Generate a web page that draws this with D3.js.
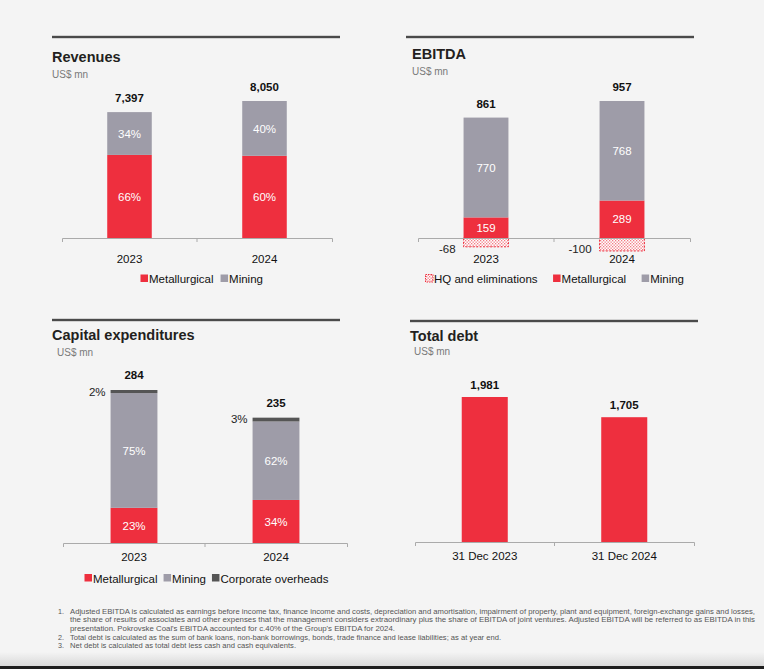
<!DOCTYPE html>
<html>
<head>
<meta charset="utf-8">
<script src="https://cdn.jsdelivr.net/npm/d3@7"></script>
<style>
  html, body { margin: 0; padding: 0; background: #f4f4f4; }
  svg { display: block; font-family: "Liberation Sans", Arial, sans-serif; }
</style>
</head>
<body>
<div id="chart"></div>
<script>
// ---- data ----
const years = ["2023", "2024"];

const revenueTotals = [7397, 8050];
const revenueMetShare = [66, 60];
const revenueMiningShare = [34, 40];

const ebitdaTotals = [861, 957];
const ebitdaHQ = [-68, -100];
const ebitdaMet = [159, 289];
const ebitdaMining = [770, 768];

const capexTotals = [284, 235];
const capexMetShare = [23, 34];
const capexMiningShare = [75, 62];
const capexCorpShare = [2, 3];

const debtDates = ["31 Dec 2023", "31 Dec 2024"];
const debtTotals = [1981, 1705];

const footnotes = [
  ["1.", "Adjusted EBITDA is calculated as earnings before income tax, finance income and costs, depreciation and amortisation, impairment of property, plant and equipment, foreign-exchange gains and losses,"],
  ["", "the share of results of associates and other expenses that the management considers extraordinary plus the share of EBITDA of joint ventures. Adjusted EBITDA will be referred to as EBITDA in this"],
  ["", "presentation. Pokrovske Coal's EBITDA accounted for c.40% of the Group's EBITDA for 2024."],
  ["2.", "Total debt is calculated as the sum of bank loans, non-bank borrowings, bonds, trade finance and lease liabilities; as at year end."],
  ["3.", "Net debt is calculated as total debt less cash and cash equivalents."]
];

// ---- styles ----
const RED = "#ee2f3e", GRAY = "#9e9ca8", DARK = "#555555";
const W = 764, H = 669;

const svg = d3.select("#chart").append("svg")
  .attr("width", W)
  .attr("height", H);

const defs = svg.append("defs");
const pat = defs.append("pattern")
  .attr("id", "hq")
  .attr("patternUnits", "userSpaceOnUse")
  .attr("width", 3).attr("height", 3);
pat.append("rect").attr("width", 3).attr("height", 3).attr("fill", "#fff");
pat.append("rect").attr("x", 0).attr("y", 0).attr("width", 1.3).attr("height", 1.3).attr("fill", "#f27a83");
pat.append("rect").attr("x", 1.5).attr("y", 1.5).attr("width", 1.3).attr("height", 1.3).attr("fill", "#f27a83");

const grad = defs.append("linearGradient")
  .attr("id", "shade").attr("x1", 0).attr("x2", 0).attr("y1", 0).attr("y2", 1);
grad.append("stop").attr("offset", 0).attr("stop-color", "#f4f4f4");
grad.append("stop").attr("offset", 1).attr("stop-color", "#d9d9d9");

svg.append("rect").attr("width", W).attr("height", H).attr("fill", "#f4f4f4");
svg.append("rect").attr("x", 0).attr("y", 652).attr("width", W).attr("height", 14).attr("fill", "url(#shade)");
svg.append("rect").attr("x", 0).attr("y", 666).attr("width", W).attr("height", 3).attr("fill", "#1e1e1e");

function segStyle(key) {
  if (key === "hq") return { fill: "url(#hq)", stroke: RED, dash: "2,1.5" };
  if (key === "met") return { fill: RED };
  if (key === "mining") return { fill: GRAY };
  return { fill: DARK };
}

function drawPanel(cfg) {
  const g = svg.append("g");

  // header rule, title, unit
  g.append("rect")
    .attr("x", cfg.rule[0]).attr("y", cfg.ruleY - 1.2)
    .attr("width", cfg.rule[1] - cfg.rule[0]).attr("height", 2.4)
    .attr("fill", "#4a4a4a");
  g.append("text")
    .attr("x", cfg.titleX).attr("y", cfg.titleY)
    .attr("font-size", 14.5).attr("font-weight", "bold").attr("fill", "#231f20")
    .text(cfg.title);
  g.append("text")
    .attr("x", cfg.subX).attr("y", cfg.subY)
    .attr("font-size", 10).attr("fill", "#7a7a7a")
    .text("US$ mn");

  const x = d3.scaleBand()
    .domain(cfg.categories)
    .range(cfg.axisX)
    .paddingInner(0.67)
    .paddingOuter(0.335);

  const stack = d3.stack().keys(cfg.keys).offset(d3.stackOffsetDiverging);
  const series = stack(cfg.rows);
  const top = d3.max(series, s => d3.max(s, d => d[1]));

  const y = d3.scaleLinear()
    .domain([0, top])
    .range([cfg.axisY, cfg.topY]);

  // bars
  series.forEach(s => {
    const st = segStyle(s.key);
    g.selectAll(null)
      .data(s)
      .join("rect")
      .attr("x", d => x(d.data.cat))
      .attr("y", d => y(Math.max(d[0], d[1])))
      .attr("width", x.bandwidth())
      .attr("height", d => Math.abs(y(d[0]) - y(d[1])))
      .attr("fill", st.fill)
      .attr("stroke", st.stroke || "none")
      .attr("stroke-width", st.stroke ? 1 : 0)
      .attr("stroke-dasharray", st.dash || null);

    // inside labels
    if (cfg.inside && cfg.inside[s.key]) {
      g.selectAll(null)
        .data(s)
        .join("text")
        .attr("x", d => x(d.data.cat) + x.bandwidth() / 2)
        .attr("y", d => (y(d[0]) + y(d[1])) / 2)
        .attr("dy", "0.36em")
        .attr("text-anchor", "middle")
        .attr("font-size", 11.5).attr("fill", "#fff")
        .text(d => cfg.inside[s.key](d.data));
    }
    // side labels
    if (cfg.side && cfg.side[s.key]) {
      const sd = cfg.side[s.key];
      g.selectAll(null)
        .data(s)
        .join("text")
        .attr("x", d => x(d.data.cat) - sd.dx)
        .attr("y", d => sd.y(d, y))
        .attr("text-anchor", "end")
        .attr("font-size", 11.5).attr("fill", "#222")
        .text(d => sd.text(d.data));
    }
  });

  // totals
  g.selectAll(null)
    .data(cfg.rows)
    .join("text")
    .attr("x", d => x(d.cat) + x.bandwidth() / 2)
    .attr("y", (d, i) => y(d3.max(series, s => s[i][1])) - cfg.totalGap)
    .attr("text-anchor", "middle")
    .attr("font-size", 11.5).attr("font-weight", "bold").attr("fill", "#111")
    .text(d => d3.format(",")(d.total));

  // axis
  const axis = g.append("g")
    .attr("transform", `translate(0,${cfg.axisY})`)
    .call(d3.axisBottom(x).tickSize(0).tickSizeOuter(4).tickPadding(cfg.catPad));
  axis.select(".domain").attr("stroke", "#aaaaaa");
  axis.selectAll("text")
    .attr("font-size", 11.5).attr("fill", "#111")
    .attr("font-family", "Liberation Sans, Arial, sans-serif");
  axis.append("line")
    .attr("x1", (cfg.axisX[0] + cfg.axisX[1]) / 2).attr("x2", (cfg.axisX[0] + cfg.axisX[1]) / 2)
    .attr("y1", 0).attr("y2", 4)
    .attr("stroke", "#aaaaaa");

  // legend
  if (cfg.legend) {
    let lx = cfg.legend.x;
    cfg.legend.items.forEach(it => {
      const st = segStyle(it.key);
      g.append("rect")
        .attr("x", lx + 0.5).attr("y", cfg.legend.y - 8.5)
        .attr("width", 7.5).attr("height", 7.5)
        .attr("fill", st.fill)
        .attr("stroke", st.stroke || "none")
        .attr("stroke-dasharray", st.dash ? "1.5,1" : null);
      const t = g.append("text")
        .attr("x", lx + 9).attr("y", cfg.legend.y)
        .attr("font-size", 11.5).attr("fill", "#111")
        .text(it.label);
      lx += 9 + t.node().getComputedTextLength() + cfg.legend.gap;
    });
  }
}

// ---- revenues ----
drawPanel({
  title: "Revenues",
  rule: [52, 340], ruleY: 37, titleX: 52, titleY: 62, subX: 52, subY: 78,
  categories: years, axisX: [62, 332], axisY: 238, topY: 101, catPad: 16.8, totalGap: 10,
  keys: ["met", "mining"],
  rows: years.map((c, i) => ({
    cat: c, total: revenueTotals[i],
    metShare: revenueMetShare[i], miningShare: revenueMiningShare[i],
    met: revenueTotals[i] * revenueMetShare[i] / 100,
    mining: revenueTotals[i] * revenueMiningShare[i] / 100
  })),
  inside: { met: d => d.metShare + "%", mining: d => d.miningShare + "%" },
  legend: { x: 140, y: 283, gap: 6.5, items: [
    { key: "met", label: "Metallurgical" }, { key: "mining", label: "Mining" }] }
});

// ---- EBITDA ----
drawPanel({
  title: "EBITDA",
  rule: [406, 694], ruleY: 37, titleX: 412, titleY: 59, subX: 412, subY: 75,
  categories: years, axisX: [418, 690], axisY: 238, topY: 101, catPad: 16.8, totalGap: 10,
  keys: ["hq", "met", "mining"],
  rows: years.map((c, i) => ({
    cat: c, total: ebitdaTotals[i],
    hq: ebitdaHQ[i], met: ebitdaMet[i], mining: ebitdaMining[i]
  })),
  inside: { met: d => d.met, mining: d => d.mining },
  side: { hq: { dx: 8, y: () => 253, text: d => d.hq } },
  legend: { x: 425, y: 283, gap: 15, items: [
    { key: "hq", label: "HQ and eliminations" },
    { key: "met", label: "Metallurgical" }, { key: "mining", label: "Mining" }] }
});

// ---- capital expenditures ----
drawPanel({
  title: "Capital expenditures",
  rule: [52, 340], ruleY: 320, titleX: 52, titleY: 340, subX: 57, subY: 356,
  categories: years, axisX: [63, 347], axisY: 543, topY: 390, catPad: 9.8, totalGap: 11,
  keys: ["met", "mining", "corp"],
  rows: years.map((c, i) => ({
    cat: c, total: capexTotals[i],
    metShare: capexMetShare[i], miningShare: capexMiningShare[i], corpShare: capexCorpShare[i],
    met: capexTotals[i] * capexMetShare[i] / 100,
    mining: capexTotals[i] * capexMiningShare[i] / 100,
    corp: capexTotals[i] * capexCorpShare[i] / 100
  })),
  inside: { met: d => d.metShare + "%", mining: d => d.miningShare + "%" },
  side: { corp: { dx: 5, y: (d, y) => y(d[1]) + 5.5, text: d => d.corpShare + "%" } },
  legend: { x: 84, y: 582.5, gap: 5.5, items: [
    { key: "met", label: "Metallurgical" }, { key: "mining", label: "Mining" },
    { key: "corp", label: "Corporate overheads" }] }
});

// ---- total debt ----
drawPanel({
  title: "Total debt",
  rule: [410, 698], ruleY: 321, titleX: 410, titleY: 341, subX: 414, subY: 355,
  categories: debtDates, axisX: [415, 694], axisY: 542, topY: 397, catPad: 9.8, totalGap: 8.5,
  keys: ["met"],
  rows: debtDates.map((c, i) => ({ cat: c, total: debtTotals[i], met: debtTotals[i] }))
});

// ---- footnotes ----
const noteWidths = [685, 685, 325, 431, 226];
const notes = svg.append("g")
  .attr("font-family", "'Liberation Sans Narrow', 'Liberation Sans', Arial, sans-serif")
  .attr("font-size", 7.2)
  .attr("fill", "#555");
footnotes.forEach((f, i) => {
  const yy = 613.5 + i * 8.7;
  if (f[0]) notes.append("text").attr("x", 58).attr("y", yy).text(f[0]);
  notes.append("text")
    .attr("x", 70).attr("y", yy)
    .attr("textLength", noteWidths[i])
    .attr("lengthAdjust", "spacingAndGlyphs")
    .text(f[1]);
});
</script>
</body>
</html>
